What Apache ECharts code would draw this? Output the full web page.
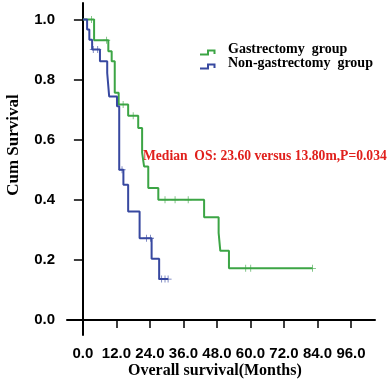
<!DOCTYPE html>
<html><head><meta charset="utf-8">
<script src="https://cdn.jsdelivr.net/npm/echarts@6/dist/echarts.min.js"></script>
<style>html,body{margin:0;padding:0;background:#fff}#c{width:389px;height:383px}</style>
</head><body><div id="c"></div>
<script>
// Kaplan-Meier step points: time (months) and survival after that time
const gastTimes = [0, 4.0, 9.1, 10.3, 11.4, 12.8, 16.2, 19.8, 21.2, 21.9, 23.4, 27.0, 43.4, 48.6, 49.2, 52.3, 82.2];
const gastSurv  = [1.0, 0.931, 0.894, 0.861, 0.756, 0.717, 0.68, 0.639, 0.557, 0.511, 0.439, 0.4, 0.342, 0.29, 0.23, 0.172, 0.172];
const gastCensT = [3.1, 8.5, 14.4, 18.0, 29.4, 33.0, 37.7, 58.3, 60.1, 82.2];
const gastCensS = [1.0, 0.931, 0.717, 0.68, 0.4, 0.4, 0.4, 0.172, 0.172, 0.172];

const nonTimes = [0, 1.5, 2.3, 3.3, 6.1, 8.7, 9.4, 12.2, 13.0, 14.5, 16.2, 20.3, 24.6, 27.3, 30.5];
const nonSurv  = [1.0, 0.967, 0.933, 0.9, 0.861, 0.822, 0.744, 0.711, 0.5, 0.45, 0.361, 0.272, 0.204, 0.136, 0.136];
const nonCensT = [3.7, 5.3, 14.0, 22.8, 24.2, 28.2, 29.4, 30.5];
const nonCensS = [0.9, 0.9, 0.5, 0.272, 0.272, 0.136, 0.136, 0.136];

const xTicks = [0, 12, 24, 36, 48, 60, 72, 84, 96];
const yTicks = [0, 0.2, 0.4, 0.6, 0.8, 1.0];
const seriesNames = ['Gastrectomy  group', 'Non-gastrectomy  group'];
const annotation = 'Median  OS: 23.60 versus 13.80m,P=0.034';

const GREEN = '#3ca545', BLUE = '#3748a0';
const zip = (a, b) => a.map((v, i) => [v, b[i]]);
const plus = 'path://M4,0 L5,0 L5,4 L9,4 L9,5 L5,5 L5,9 L4,9 L4,5 L0,5 L0,4 L4,4 Z';

const chart = echarts.init(document.getElementById('c'));
chart.setOption({
  animation: false,
  grid: {left: 67, right: 14, top: 3, bottom: 48, containLabel: false},
  xAxis: {
    type: 'value', min: -5.7, max: 104.6,
    axisLine: {show: true, lineStyle: {color: '#000', width: 2}},
    axisTick: {show: true, customValues: xTicks, length: 8, lineStyle: {color: '#000', width: 1.5}},
    axisLabel: {customValues: xTicks, formatter: v => v.toFixed(1), color: '#000', fontFamily: 'Liberation Sans', fontWeight: 'bold', fontSize: 15, margin: 11},
    splitLine: {show: false}
  },
  yAxis: {
    type: 'value', min: -0.05, max: 1.055,
    axisLine: {show: true, lineStyle: {color: '#000', width: 2}},
    axisTick: {show: true, customValues: yTicks, length: 9, lineStyle: {color: '#000', width: 1.5}},
    axisLabel: {customValues: yTicks, formatter: v => v.toFixed(1), color: '#000', fontFamily: 'Liberation Sans', fontWeight: 'bold', fontSize: 15, margin: 12},
    splitLine: {show: false}
  },
  series: [
    {name: seriesNames[0], type: 'line', step: 'end', data: zip(gastTimes, gastSurv), showSymbol: false, lineStyle: {color: GREEN, width: 2}, z: 3},
    {name: seriesNames[1], type: 'line', step: 'end', data: zip(nonTimes, nonSurv), showSymbol: false, lineStyle: {color: BLUE, width: 2}, z: 4},
    {type: 'scatter', data: zip(gastCensT, gastCensS), symbol: plus, symbolSize: 7, itemStyle: {color: GREEN}, z: 3},
    {type: 'scatter', data: zip(nonCensT, nonCensS), symbol: plus, symbolSize: 7, itemStyle: {color: BLUE}, z: 4}
  ],
  graphic: [
    {type: 'polyline', shape: {points: [[200, 54.5], [208, 54.5], [208, 50.5], [214.5, 50.5], [214.5, 54]]}, style: {stroke: GREEN, lineWidth: 2, fill: null}},
    {type: 'polyline', shape: {points: [[200, 68.5], [208, 68.5], [208, 64.5], [214.5, 64.5], [214.5, 68]]}, style: {stroke: BLUE, lineWidth: 2, fill: null}},
    {type: 'text', left: 228, top: 42, style: {text: seriesNames[0], font: 'bold 14px "Liberation Serif"', fill: '#000'}},
    {type: 'text', left: 228, top: 56, style: {text: seriesNames[1], font: 'bold 14px "Liberation Serif"', fill: '#000'}},
    {type: 'text', left: 143, top: 149, style: {text: annotation, font: 'bold 13.6px "Liberation Serif"', fill: '#e0201c'}},
    {type: 'text', left: 128, top: 363, style: {text: 'Overall survival(Months)', font: 'bold 16px "Liberation Serif"', fill: '#000'}},
    {type: 'text', x: 14, y: 145, rotation: Math.PI / 2, style: {text: 'Cum Survival', font: 'bold 17px "Liberation Serif"', fill: '#000', align: 'center', verticalAlign: 'middle'}}
  ]
});
</script></body></html>
